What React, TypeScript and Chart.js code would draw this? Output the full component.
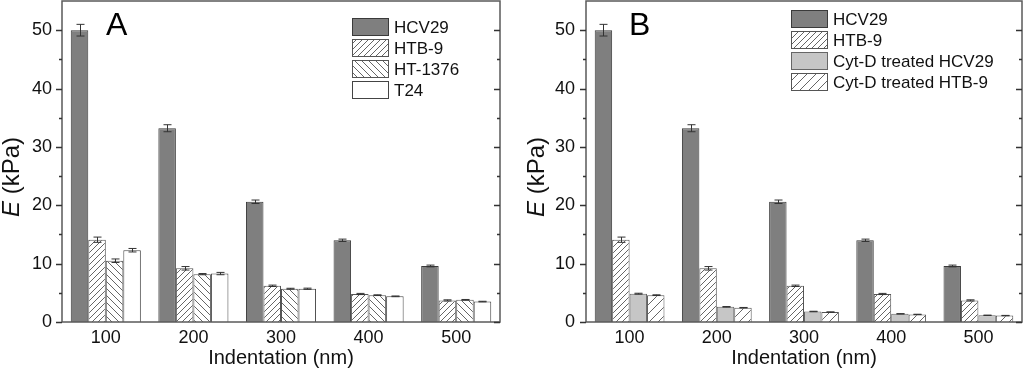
import React, { useEffect, useRef } from "react";
import { Chart, registerables } from "chart.js";

Chart.register(...registerables);

const CATEGORIES = ["100", "200", "300", "400", "500"];
const Y_TICKS = [0, 10, 20, 30, 40, 50];

const HCV29 = [50.0, 33.2, 20.6, 14.0, 9.6];
const HCV29_ERR = [1.0, 0.6, 0.3, 0.2, 0.15];
const HTB9 = [14.1, 9.2, 6.2, 4.8, 3.7];
const HTB9_ERR = [0.45, 0.3, 0.12, 0.1, 0.1];
const HT1376 = [10.5, 8.2, 5.7, 4.6, 3.8];
const HT1376_ERR = [0.3, 0.1, 0.08, 0.06, 0.06];
const T24 = [12.3, 8.3, 5.7, 4.4, 3.5];
const T24_ERR = [0.3, 0.2, 0.1, 0.06, 0.05];
const CYTD_HCV29 = [4.85, 2.6, 1.8, 1.4, 1.15];
const CYTD_HCV29_ERR = [0.08, 0.05, 0.04, 0.03, 0.03];
const CYTD_HTB9 = [4.6, 2.45, 1.7, 1.3, 1.1];
const CYTD_HTB9_ERR = [0.06, 0.04, 0.03, 0.03, 0.03];

const FONT = "'Liberation Sans', Arial, sans-serif";

function makeHatch(dir: "/" | "\\", size: number, color: string, bg: string) {
  const c = document.createElement("canvas");
  c.width = size;
  c.height = size;
  const ctx = c.getContext("2d")!;
  ctx.fillStyle = bg;
  ctx.fillRect(0, 0, size, size);
  ctx.strokeStyle = color;
  ctx.lineWidth = 0.9;
  ctx.beginPath();
  if (dir === "/") {
    ctx.moveTo(0, size);
    ctx.lineTo(size, 0);
    ctx.moveTo(-2, 2);
    ctx.lineTo(2, -2);
    ctx.moveTo(size - 2, size + 2);
    ctx.lineTo(size + 2, size - 2);
  } else {
    ctx.moveTo(0, 0);
    ctx.lineTo(size, size);
    ctx.moveTo(size - 2, -2);
    ctx.lineTo(size + 2, 2);
    ctx.moveTo(-2, size - 2);
    ctx.lineTo(2, size + 2);
  }
  ctx.stroke();
  return ctx.createPattern(c, "repeat")!;
}

type PanelCfg = {
  letter: string;
  letterX: number;
  yWidth: number;
  padRight: number;
  tickPad: number;
  yTitleX: number;
  legendX: number;
  legendY: number;
  legendTextX: number;
};

const framePlugin = {
  id: "frameTicks",
  afterDraw(chart: any) {
    const { ctx, chartArea } = chart;
    const y = chart.scales.y;
    const { left, right, top, bottom } = chartArea;
    ctx.save();
    ctx.strokeStyle = "#5a5a5a";
    ctx.lineWidth = 1.5;
    ctx.strokeRect(left, top, right - left, bottom - top);
    ctx.lineWidth = 1.3;
    ctx.strokeStyle = "#333";
    for (let v = 0; v < 55; v += 5) {
      const py = Math.round(y.getPixelForValue(v)) + 0.5;
      const len = v % 10 === 0 ? 6 : 3;
      ctx.beginPath();
      ctx.moveTo(left - len, py);
      ctx.lineTo(left, py);
      ctx.moveTo(right - len, py);
      ctx.lineTo(right, py);
      ctx.stroke();
    }
    ctx.restore();
  },
};

const errorBarPlugin = {
  id: "errorBars",
  afterDatasetsDraw(chart: any) {
    const { ctx } = chart;
    const yS = chart.scales.y;
    ctx.save();
    ctx.strokeStyle = "#333";
    ctx.lineWidth = 1;
    chart.data.datasets.forEach((ds: any, i: number) => {
      const meta = chart.getDatasetMeta(i);
      meta.data.forEach((bar: any, j: number) => {
        const v = ds.data[j];
        const e = ds.errors[j];
        const x = Math.round(bar.x) + 0.5;
        const yt = yS.getPixelForValue(v + e);
        const yb = yS.getPixelForValue(v - e);
        ctx.beginPath();
        ctx.moveTo(x, yt);
        ctx.lineTo(x, yb);
        ctx.moveTo(x - 4, yt);
        ctx.lineTo(x + 4, yt);
        ctx.moveTo(x - 4, yb);
        ctx.lineTo(x + 4, yb);
        ctx.stroke();
      });
    });
    ctx.restore();
  },
};

function Panel({ cfg, datasets }: { cfg: PanelCfg; datasets: any[] }) {
  const ref = useRef<HTMLCanvasElement>(null);
  useEffect(() => {
    const canvas = ref.current!;
    const annot = {
      id: "annot",
      afterDraw(chart: any) {
        const { ctx } = chart;
        ctx.save();
        ctx.fillStyle = "#000";
        ctx.font = `32px ${FONT}`;
        ctx.textBaseline = "alphabetic";
        ctx.textAlign = "left";
        ctx.fillText(cfg.letter, cfg.letterX, 35);
        ctx.translate(cfg.yTitleX, 177);
        ctx.rotate(-Math.PI / 2);
        ctx.textBaseline = "middle";
        ctx.font = `italic 24px ${FONT}`;
        const wE = ctx.measureText("E").width;
        ctx.font = `24px ${FONT}`;
        const wR = ctx.measureText(" (kPa)").width;
        const start = -(wE + wR) / 2;
        ctx.fillStyle = "#111";
        ctx.font = `italic 24px ${FONT}`;
        ctx.fillText("E", start, 0);
        ctx.font = `24px ${FONT}`;
        ctx.fillText(" (kPa)", start + wE, 0);
        ctx.restore();
        ctx.save();
        chart.data.datasets.forEach((ds: any, i: number) => {
          const by = cfg.legendY + i * 21;
          ctx.fillStyle = ds.backgroundColor;
          ctx.fillRect(cfg.legendX, by, 37, 18);
          ctx.strokeStyle = ds.borderColor;
          ctx.lineWidth = 1;
          ctx.strokeRect(cfg.legendX + 0.5, by + 0.5, 36, 17);
          ctx.fillStyle = "#111";
          ctx.font = `17px ${FONT}`;
          ctx.textBaseline = "middle";
          ctx.textAlign = "left";
          ctx.fillText(ds.label, cfg.legendTextX, by + 10);
        });
        ctx.restore();
      },
    };
    const chart = new Chart(canvas, {
      type: "bar",
      data: { labels: CATEGORIES, datasets },
      options: {
        responsive: false,
        animation: false,
        devicePixelRatio: 1,
        layout: { padding: { left: 0, right: cfg.padRight, top: 1, bottom: 0 } },
        plugins: { legend: { display: false }, tooltip: { enabled: false } },
        datasets: { bar: { categoryPercentage: 0.8, barPercentage: 1.0 } },
        scales: {
          x: {
            grid: { display: false, drawTicks: false },
            border: { display: false },
            ticks: { font: { family: FONT, size: 18 }, color: "#111", padding: 5, maxRotation: 0 },
            title: {
              display: true,
              text: "Indentation (nm)",
              font: { family: FONT, size: 20 },
              color: "#111",
              padding: { top: 0, bottom: 1 },
            },
            afterFit(scale: any) {
              scale.height = 49;
              scale.paddingLeft = 0;
              scale.paddingRight = 0;
            },
          },
          y: {
            min: 0,
            max: 55,
            grid: { display: false, drawTicks: false },
            border: { display: false },
            ticks: {
              stepSize: 5,
              font: { family: FONT, size: 18 },
              color: "#111",
              padding: cfg.tickPad,
              callback: (v: any) => (Y_TICKS.includes(Number(v)) ? String(v) : ""),
            },
            afterFit(scale: any) {
              scale.width = cfg.yWidth;
              scale.paddingTop = 0;
              scale.paddingBottom = 0;
            },
          },
        },
      },
      plugins: [errorBarPlugin, framePlugin, annot],
    } as any);
    return () => chart.destroy();
  }, []);
  return <canvas ref={ref} width={512} height={371} style={{ display: "block", width: 512, height: 371 }} />;
}

export default function App() {
  const dark = "#7f7f7f";
  const htb = makeHatch("/", 6, "#555", "#ffffff");
  const ht1376 = makeHatch("\\", 7, "#555", "#ffffff");
  const cytHtb = makeHatch("/", 9, "#555", "#ffffff");

  const dsA = [
    { label: "HCV29", data: HCV29, errors: HCV29_ERR, backgroundColor: dark, borderColor: "#3a3a3a", borderWidth: 1 },
    { label: "HTB-9", data: HTB9, errors: HTB9_ERR, backgroundColor: htb, borderColor: "#555", borderWidth: 1 },
    { label: "HT-1376", data: HT1376, errors: HT1376_ERR, backgroundColor: ht1376, borderColor: "#555", borderWidth: 1 },
    { label: "T24", data: T24, errors: T24_ERR, backgroundColor: "#ffffff", borderColor: "#444", borderWidth: 1 },
  ];
  const dsB = [
    { label: "HCV29", data: HCV29, errors: HCV29_ERR, backgroundColor: dark, borderColor: "#3a3a3a", borderWidth: 1 },
    { label: "HTB-9", data: HTB9, errors: HTB9_ERR, backgroundColor: htb, borderColor: "#555", borderWidth: 1 },
    { label: "Cyt-D treated HCV29", data: CYTD_HCV29, errors: CYTD_HCV29_ERR, backgroundColor: "#c6c6c6", borderColor: "#666", borderWidth: 1 },
    { label: "Cyt-D treated HTB-9", data: CYTD_HTB9, errors: CYTD_HTB9_ERR, backgroundColor: cytHtb, borderColor: "#555", borderWidth: 1 },
  ];

  const cfgA: PanelCfg = { letter: "A", letterX: 106, yWidth: 62, padRight: 12, tickPad: 10, yTitleX: 12, legendX: 352, legendY: 18, legendTextX: 394 };
  const cfgB: PanelCfg = { letter: "B", letterX: 117, yWidth: 74, padRight: 2, tickPad: 11, yTitleX: 25, legendX: 279, legendY: 10, legendTextX: 321 };

  return (
    <div style={{ position: "fixed", left: 0, top: 0, width: 1024, height: 371, background: "#fff" }}>
      <div style={{ position: "absolute", left: 0, top: 0 }}>
        <Panel cfg={cfgA} datasets={dsA} />
      </div>
      <div style={{ position: "absolute", left: 512, top: 0 }}>
        <Panel cfg={cfgB} datasets={dsB} />
      </div>
    </div>
  );
}
